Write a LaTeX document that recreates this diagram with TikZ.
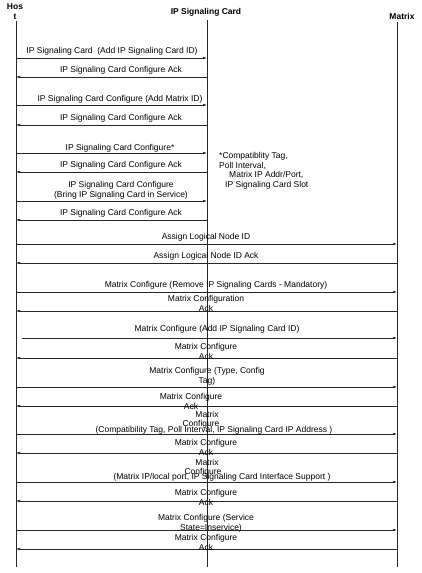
\documentclass[tikz,border=0pt]{standalone}
\usepackage{fontspec}
\setmainfont{Liberation Sans}
\usetikzlibrary{arrows.meta}
\begin{document}
\begin{tikzpicture}[x=1pt,y=-1pt,
  lbl/.style={font=\fontsize{8.5}{10}\selectfont, inner sep=0pt, align=center},
  hdr/.style={font=\bfseries\fontsize{8.5}{10.5}\selectfont, inner sep=0pt, align=center},
  life/.style={line width=0.6pt, black!85},
  msg/.style={line width=0.6pt, black!85, -{Latex[length=4pt,width=2.6pt]}}]
\useasboundingbox (0,0) rectangle (422,573);
% headers
\node[hdr] (hostlbl) at (15,11.5) {Hos\\t};
\node[hdr] (cardlbl) at (206,12) {IP Signaling Card};
\node[hdr] (matlbl) at (402,16) {Matrix};
% lifelines
\coordinate (H0) at (16,21);  \coordinate (H1) at (16,567);
\coordinate (C0) at (207,20); \coordinate (C1) at (207,567);
\coordinate (M0) at (397,22); \coordinate (M1) at (397,567);
\draw[life] (H0) -- (H1);
\draw[life] (C0) -- (C1);
\draw[life] (M0) -- (M1);
% Host <-> IP Signaling Card
\draw[msg] (H0 |- 0,58) -- (C0 |- 0,58);
\node[lbl] (t1) at (112,51) {IP Signaling Card\ \ (Add IP Signaling Card ID)};
\draw[msg] (C0 |- 0,77) -- (H0 |- 0,77);
\node[lbl] (t2) at (121,70) {IP Signaling Card Configure Ack};
\draw[msg] (H0 |- 0,105) -- (C0 |- 0,105);
\node[lbl] (t3) at (120,99) {IP Signaling Card Configure (Add Matrix ID)};
\draw[msg] (C0 |- 0,125) -- (H0 |- 0,125);
\node[lbl] (t4) at (121,118) {IP Signaling Card Configure Ack};
\draw[msg] (H0 |- 0,153) -- (C0 |- 0,153);
\node[lbl] (t5) at (120,148) {IP Signaling Card Configure*};
\draw[msg] (C0 |- 0,172) -- (H0 |- 0,172);
\node[lbl] (t6) at (121,165) {IP Signaling Card Configure Ack};
\draw[msg] (H0 |- 0,201) -- (C0 |- 0,201);
\node[lbl] (t7) at (121,190) {IP Signaling Card Configure\\(Bring IP Signaling Card in Service)};
\draw[msg] (C0 |- 0,220) -- (H0 |- 0,220);
\node[lbl] (t8) at (121,213) {IP Signaling Card Configure Ack};
% note
\node[lbl, anchor=west] (n1) at (219,156) {*Compatiblity Tag,};
\node[lbl, anchor=west] (n2) at (219,165.5) {Poll Interval,};
\node[lbl, anchor=west] (n3) at (229,175) {Matrix IP Addr/Port,};
\node[lbl, anchor=west] (n4) at (225,185) {IP Signaling Card Slot};
% Host <-> Matrix
\draw[msg] (H0 |- 0,244) -- (M0 |- 0,244);
\node[lbl] (t9) at (206,237) {Assign Logical Node ID};
\draw[msg] (M0 |- 0,263) -- (H0 |- 0,263);
\node[lbl] (t10) at (206,256) {Assign Logical Node ID Ack};
\draw[msg] (H0 |- 0,292) -- (M0 |- 0,292);
\node[lbl] (t11) at (216,285) {Matrix Configure (Remove IP Signaling Cards - Mandatory)};
\draw[msg] (M0 |- 0,311) -- (H0 |- 0,311);
\node[lbl] (t12) at (206,303.5) {Matrix Configuration\\Ack};
\coordinate (s13) at (22,338);
\draw[msg] (s13) -- (M0 |- s13);
\node[lbl] (t13) at (217,329) {Matrix Configure (Add IP Signaling Card ID)};
\draw[msg] (M0 |- 0,358) -- (H0 |- 0,358);
\node[lbl] (t14) at (206,351.5) {Matrix Configure\\Ack};
\draw[msg] (H0 |- 0,387) -- (M0 |- 0,387);
\node[lbl] (t15) at (207,376.5) {Matrix Configure (Type, Config\\Tag)};
\draw[msg] (M0 |- 0,406) -- (H0 |- 0,406);
\node[lbl] (t16) at (191,401.5) {Matrix Configure\\Ack};
\draw[msg] (H0 |- 0,434) -- (M0 |- 0,434);
\node[lbl] (t17a) at (207,414) {Matrix};
\node[lbl] (t17b) at (201,424) {Configure};
\node[lbl] (t17c) at (214,430) {(Compatibility Tag, Poll Interval, IP Signaling Card IP Address )};
\draw[msg] (M0 |- 0,453) -- (H0 |- 0,453);
\node[lbl] (t18) at (206,447) {Matrix Configure\\Ack};
\draw[msg] (H0 |- 0,482) -- (M0 |- 0,482);
\node[lbl] (t19a) at (207,462) {Matrix};
\node[lbl] (t19b) at (203,472) {Configure};
\node[lbl] (t19c) at (222,477) {(Matrix IP/local port, IP Signaling Card Interface Support )};
\draw[msg] (M0 |- 0,501) -- (H0 |- 0,501);
\node[lbl] (t20) at (206,497) {Matrix Configure\\Ack};
\draw[msg] (H0 |- 0,530) -- (M0 |- 0,530);
\node[lbl] (t21a) at (206,518) {Matrix Configure (Service};
\node[lbl] (t21b) at (211,528) {State=Inservice)};
\draw[msg] (M0 |- 0,549) -- (H0 |- 0,549);
\node[lbl] (t22) at (206,542) {Matrix Configure\\Ack};
\end{tikzpicture}
\end{document}
